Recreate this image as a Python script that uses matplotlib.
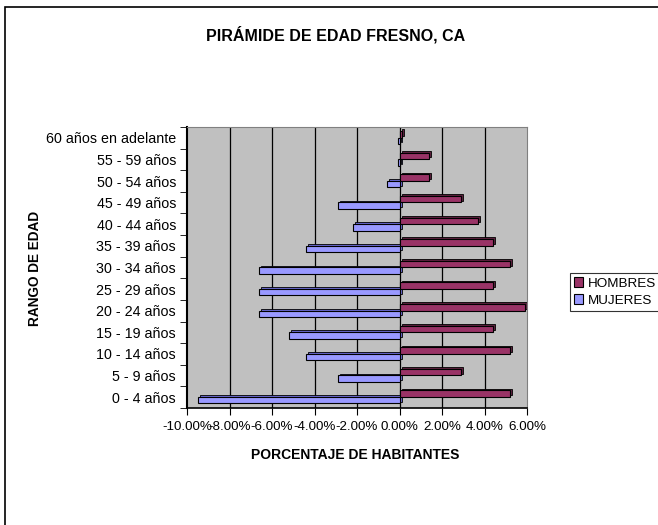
import numpy as np
import matplotlib.pyplot as plt
from matplotlib.patches import Rectangle
from matplotlib.ticker import FuncFormatter

plt.rcParams['font.family'] = ['Liberation Sans', 'DejaVu Sans']

# rangos de edad (de abajo hacia arriba)
grupos = ['0 - 4 años', '5 - 9 años', '10 - 14 años', '15 - 19 años', '20 - 24 años',
          '25 - 29 años', '30 - 34 años', '35 - 39 años', '40 - 44 años', '45 - 49 años',
          '50 - 54 años', '55 - 59 años', '60 años en adelante']
hombres = [5.2, 2.9, 5.2, 4.4, 5.9, 4.4, 5.2, 4.4, 3.7, 2.9, 1.4, 1.4, 0.1]
mujeres = [-9.5, -2.9, -4.4, -5.2, -6.6, -6.6, -6.6, -4.4, -2.2, -2.9, -0.6, -0.05, -0.05]
xticks = [-10, -8, -6, -4, -2, 0, 2, 4, 6]

c_h = '#993366'
c_m = '#9999FF'

fig = plt.figure(figsize=(6.58, 5.25), dpi=100)
ax = fig.add_axes([187 / 658, (525 - 408) / 525, (527 - 187) / 658, (408 - 127) / 525])
ax.set_facecolor('#C0C0C0')

y = np.arange(len(grupos))
h = 0.3
# sombra para dar efecto 3D
dx, dy = 0.1, 0.08
ax.barh(y + 0.16 + dy, hombres, height=h, left=dx, color='#5c1f3d', edgecolor='black', linewidth=0.6, zorder=2)
ax.barh(y - 0.14 + dy, mujeres, height=h, left=dx, color='#6666cc', edgecolor='black', linewidth=0.6, zorder=2)
ax.barh(y + 0.16, hombres, height=h, color=c_h, edgecolor='black', linewidth=0.8, label='HOMBRES', zorder=3)
ax.barh(y - 0.14, mujeres, height=h, color=c_m, edgecolor='black', linewidth=0.8, label='MUJERES', zorder=3)

ax.set_xlim(-10, 6)
ax.set_ylim(-0.5, len(grupos) - 0.5)
ax.set_xticks(xticks)
ax.xaxis.set_major_formatter(FuncFormatter(lambda v, p: f'{v:.2f}%'))
for v in xticks[1:-1]:
    ax.axvline(v, color='black', linewidth=0.9, zorder=1)

ax.set_yticks(y)
ax.set_yticklabels(grupos)
ax.set_yticks(np.arange(-0.5, len(grupos)), minor=True)
ax.tick_params(axis='y', which='major', length=0, labelsize=10.3, pad=8)
ax.tick_params(axis='y', which='minor', length=5, color='black')
ax.tick_params(axis='x', length=5, labelsize=9.6, pad=4)

for s in ['top', 'right']:
    ax.spines[s].set_color('#808080')
ax.spines['left'].set_linewidth(1.5)
ax.spines['bottom'].set_linewidth(1.2)

fig.text(355 / 658, 1 - 455 / 525, 'PORCENTAJE DE HABITANTES', ha='center', va='center',
         fontsize=10, fontweight='bold')
fig.text(35 / 658, 1 - 268 / 525, 'RANGO DE EDAD', ha='center', va='center', rotation=90,
         fontsize=9.8, fontweight='bold')
fig.text(336 / 658, 1 - 35 / 525, 'PIRÁMIDE DE EDAD FRESNO, CA', ha='center', va='center',
         fontsize=11.5, fontweight='bold')

leg = ax.legend(loc='center left', bbox_to_anchor=(570 / 658, 1 - 292 / 525),
                bbox_transform=fig.transFigure, fontsize=9.7, frameon=True, fancybox=False,
                edgecolor='black', handlelength=0.7, handleheight=0.7, handletextpad=0.3,
                borderpad=0.3, labelspacing=0.35, borderaxespad=0)
leg.get_frame().set_linewidth(0.8)

fig.patches.append(Rectangle((5 / 658, -0.2), 1.2, 1.2 - 7 / 525, transform=fig.transFigure,
                             fill=False, edgecolor='black', linewidth=1.2))

fig.savefig('out.png', dpi=100)
